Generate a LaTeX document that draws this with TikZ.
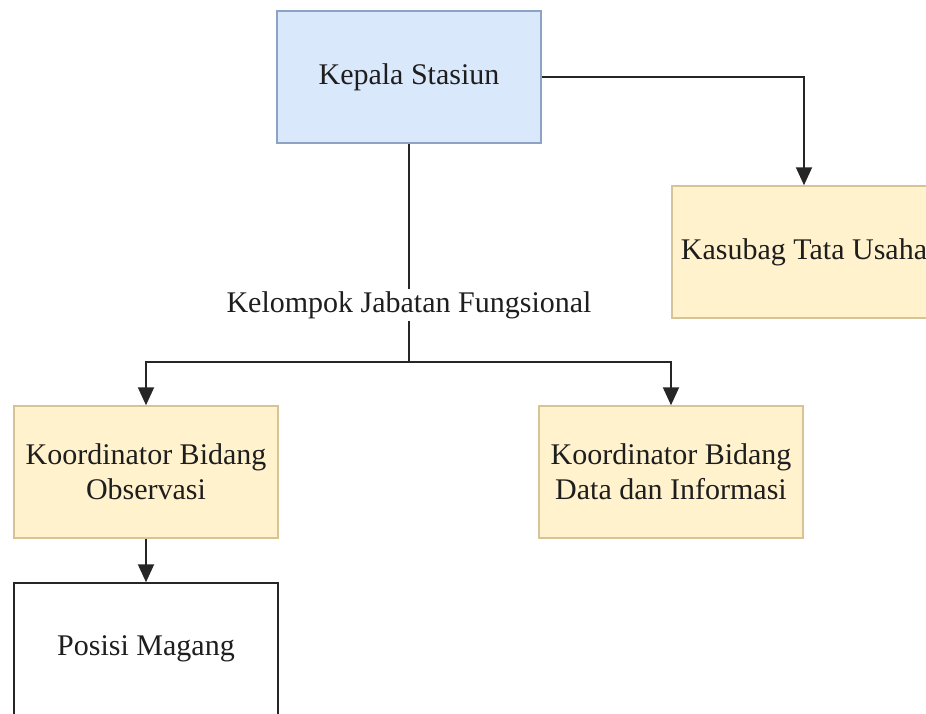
\documentclass[tikz,border=0pt]{standalone}
\usepackage{fontspec}
\setmainfont{Liberation Serif}
\usetikzlibrary{arrows.meta}
\definecolor{blueFill}{HTML}{DAE8FC}
\definecolor{blueLine}{HTML}{8CA3C4}
\definecolor{yelFill}{HTML}{FFF2CC}
\definecolor{yelLine}{HTML}{D6C496}
\definecolor{txt}{HTML}{1E1E1E}
\tikzset{
  box/.style={draw, line width=1.5pt, minimum width=264pt, minimum height=132pt,
    align=center, inner sep=0pt, font=\fontsize{30}{35}\selectfont, text=txt},
  bluebox/.style={box, fill=blueFill, draw=blueLine},
  yelbox/.style={box, fill=yelFill, draw=yelLine},
  whitebox/.style={box, fill=white, draw=black!85},
  conn/.style={line width=2pt, draw=black!85},
  arr/.style={conn, -{Triangle[width=16pt,length=18pt]}},
  lbl/.style={fill=white, inner sep=2pt, font=\fontsize{30}{35}\selectfont, text=txt}
}
\begin{document}
\begin{tikzpicture}[x=1pt,y=-1pt]
\path[use as bounding box, clip] (0,0) rectangle (926,713);
\fill[white] (0,0) rectangle (926,713);
\node[bluebox] (kepala) at (409,77) {Kepala Stasiun};
\node[yelbox] (kasubag) at (804,252) {Kasubag Tata Usaha};
\node[yelbox] (obs) at (146,472) {Koordinator Bidang\\Observasi};
\node[yelbox] (data) at (671,472) {Koordinator Bidang\\Data dan Informasi};
\node[whitebox] (posisi) at (146,649) {Posisi Magang};
\coordinate (j) at (409,362);
\draw[arr] (kepala.east) -| (kasubag.north);
\draw[conn] (kepala.south) -- (j);
\draw[arr] (j) -| (obs.north);
\draw[arr] (j) -| (data.north);
\draw[arr] (obs.south) -- (posisi.north);
\node[lbl] (kjf) at (409,305) {Kelompok Jabatan Fungsional};
\end{tikzpicture}
\end{document}
